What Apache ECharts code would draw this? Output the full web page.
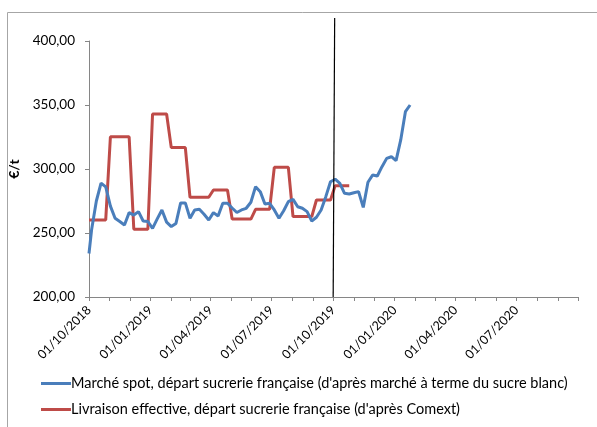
<!DOCTYPE html>
<html>
<head>
<meta charset="utf-8">
<script src="https://cdn.jsdelivr.net/npm/echarts@6/dist/echarts.min.js"></script>
<style>
html,body{margin:0;padding:0;background:#fff;}
#chart{width:597px;height:427px;}
</style>
</head>
<body>
<div id="chart"></div>
<script>
// ---- Data ----
const seriesNames = [
  "Marché spot, départ sucrerie française (d'après marché à terme du sucre blanc)",
  "Livraison effective, départ sucrerie française (d'après Comext)"
];
// Spot market: first value on 01/10/2018, then weekly (Fridays from 05/10/2018)
const spotStart = '2018-10-01';
const spotFirstFriday = '2018-10-05';
const spotValues = [
  234, 253, 275, 289, 286, 271, 261.5, 259, 256.3, 265.9,
  264, 266.7, 259.4, 259, 253.6, 261, 268, 258.5, 255, 257.5,
  273.5, 273.5, 261.5, 268, 268.5, 264.6, 260.2, 265.9, 263.3, 273.2,
  273.2, 269.5, 266, 268, 269.3, 274, 286.2, 282.3, 272.7, 273.2,
  268, 261.5, 267.4, 274.5, 276.3, 270.5, 269.3, 266.7, 259.4, 262.3,
  268, 278.4, 290, 292, 288.8, 281, 280.5, 281.5, 282.3, 270,
  289.6, 295.3, 294.5, 301.8, 308.3, 309.6, 306.5, 322.7, 344.8, 350
];
// Effective delivery: monthly values, reported on weekly dates (Fridays)
const deliveryMonths = ['2018-10','2018-11','2018-12','2019-01','2019-02','2019-03',
  '2019-04','2019-05','2019-06','2019-07','2019-08','2019-09','2019-10'];
const deliveryValues = [260.2, 325.2, 252.9, 343, 316.7, 277.9,
  283.6, 260.9, 268.5, 301.3, 262.8, 275.8, 287];
const deliveryLastFriday = '2019-10-25';
// Axis
const xMin = '2018-10-01';
const xMax = '2020-10-01';
const yMin = 200, yMax = 400, yStep = 50;
const markerDate = '2019-10-01';

// ---- helpers ----
function d(s){ const p = s.split('-').map(Number); return new Date(p[0], p[1]-1, p[2] || 1).getTime(); }
function fmtDate(t){ const dt = new Date(t); const p = n => (n<10?'0':'')+n; return p(dt.getDate())+'/'+p(dt.getMonth()+1)+'/'+dt.getFullYear(); }
function addDays(t, n){ const dt = new Date(t); dt.setDate(dt.getDate()+n); return dt.getTime(); }

const spotData = [[d(spotStart), spotValues[0]]];
for (let i = 1; i < spotValues.length; i++) spotData.push([addDays(d(spotFirstFriday), 7*(i-1)), spotValues[i]]);

const delivData = [[d(xMin), deliveryValues[0]]];
for (let t = d('2018-10-05'); t <= d(deliveryLastFriday); t = addDays(t, 7)) {
  const dt = new Date(t);
  const key = dt.getFullYear() + '-' + (dt.getMonth() < 9 ? '0' : '') + (dt.getMonth()+1);
  delivData.push([t, deliveryValues[deliveryMonths.indexOf(key)]]);
}

const monthTicks = [];
for (let t = d(xMin); t <= d(xMax); ) { monthTicks.push(t); const dt = new Date(t); dt.setMonth(dt.getMonth()+1); t = dt.getTime(); }
const quarterTicks = monthTicks.filter((t, i) => i % 3 === 0 && i < monthTicks.length - 1);

const FONT = 'Lato';
const chart = echarts.init(document.getElementById('chart'), null, {renderer: 'canvas'});
const axisCol = '#868686';
chart.setOption({
  animation: false,
  textStyle: {fontFamily: FONT},
  grid: {left: 89, right: 19, top: 41, bottom: 130, containLabel: false, outerBoundsMode: 'none'},
  xAxis: {
    type: 'value', min: d(xMin), max: d(xMax), scale: true,
    axisLine: {lineStyle: {color: axisCol, width: 1}},
    axisTick: {show: true, customValues: monthTicks, length: 4, lineStyle: {color: axisCol}},
    axisLabel: {customValues: quarterTicks, rotate: 45, formatter: v => fmtDate(v),
      color: '#000', fontSize: 12.5, fontFamily: FONT, margin: 11, hideOverlap: false},
    splitLine: {show: false}
  },
  yAxis: {
    type: 'value', min: yMin, max: yMax, interval: yStep,
    name: '€/t', nameLocation: 'middle', nameRotate: 90, nameGap: 62,
    nameTextStyle: {color: '#000', fontWeight: 'bold', fontSize: 14, fontFamily: FONT},
    axisLine: {show: true, lineStyle: {color: axisCol}},
    axisTick: {show: true, length: 4, lineStyle: {color: axisCol}},
    axisLabel: {color: '#000', fontSize: 13.5, fontFamily: FONT, margin: 14,
      formatter: v => v.toFixed(2).replace('.', ',')},
    splitLine: {show: false}
  },
  legend: {
    orient: 'vertical', left: 36, top: 371, itemGap: 11,
    itemWidth: 30, itemHeight: 3, icon: 'rect',
    textStyle: {color: '#000', fontSize: 14.5, fontFamily: FONT, padding: [0,0,0,-5]},
    data: seriesNames
  },
  series: [
    {name: seriesNames[0], type: 'line', data: spotData, showSymbol: false, symbol: 'none',
      lineStyle: {color: '#4a7ebb', width: 3}, itemStyle: {color: '#4a7ebb'}, z: 3},
    {name: seriesNames[1], type: 'line', data: delivData, showSymbol: false, symbol: 'none',
      lineStyle: {color: '#be4b48', width: 3}, itemStyle: {color: '#be4b48'}, z: 2}
  ]
});

const px = chart.convertToPixel({gridIndex: 0}, [d(markerDate), yMin]);
chart.setOption({
  graphic: [
    {type: 'rect', shape: {x: 7.5, y: 12.5, width: 600, height: 500}, silent: true,
      style: {fill: 'none', stroke: '#a6a6a6', lineWidth: 1}, z: 0},
    {type: 'line', shape: {x1: px[0] + 1.5, y1: 18, x2: px[0], y2: px[1]}, silent: true,
      style: {stroke: '#000', lineWidth: 1.2}, z: 10}
  ]
});
</script>
</body>
</html>
